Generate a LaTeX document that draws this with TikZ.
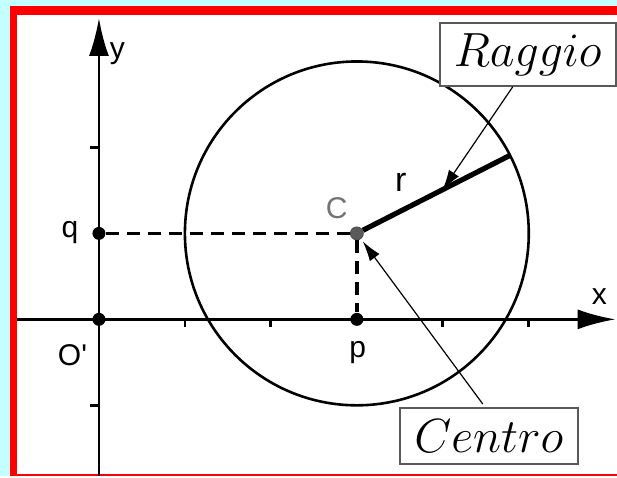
\RequirePackage{fix-cm}
\documentclass[tikz,border=0pt]{standalone}
\usepackage{fontspec}
\usepackage{xcolor}
\usepackage{tikz}
\usetikzlibrary{arrows.meta,positioning,calc}
\newfontfamily\labelsans{Liberation Sans}
\definecolor{sky}   {HTML}{C4FFFF}
\definecolor{frame} {HTML}{FF0000}
\definecolor{smoke} {HTML}{5A5A5A}

\begin{document}
\begin{tikzpicture}[x=43pt,y=43pt,
    axis/.style={line width=1.4pt},
    axisarrow/.style={axis,-{Latex[length=19pt,width=10pt]}},
    dot/.style={circle,fill=black,inner sep=0pt,minimum size=6.5pt},
    lbl/.style={font=\labelsans\fontsize{15}{17}\selectfont,inner sep=0pt},
    tag/.style={draw=smoke,line width=0.8pt,fill=white,inner sep=0pt,
                font=\fontsize{24}{28}\selectfont},
    leader/.style={line width=0.6pt,-{Latex[length=10pt,width=6pt]}},
    dashline/.style={line width=1.8pt,dash pattern=on 6.5pt off 4pt}]
  % page: cyan margin and red frame, cut on the right
  \fill[sky] (-1.151,-1.820) rectangle (6.023,3.715);
  \fill[frame] (-1.035,-1.820) rectangle (6.023,3.645);
  \fill[white] (-0.953,-1.802) rectangle (6.023,3.541);

  \draw[axisarrow] (-0.953,0) -- (6.01,0);
  \draw[axisarrow] (0,-1.82) -- (0,3.506);
  \foreach \t in {1,2,4,5}
    \draw[axis] (\t,0) -- (\t,-0.09);
  \foreach \t in {-1,2}
    \draw[axis] (0,\t) -- (-0.1,\t);

  \node[dot] (O) at (0,0) {};
  \node[dot] (p) at (3,0) {};
  \node[dot] (q) at (0,1) {};
  \node[dot,fill=smoke,draw=black!70,line width=0.4pt] (C) at (3,1) {};
  \coordinate (rend) at ($(C.center)+(27:2)$);

  \draw[line width=1.3pt] (C.center) circle (2);
  \draw[dashline] (q) -- (C);
  \draw[dashline] (C) -- (p);
  \draw[line width=2.6pt] (C) -- (rend);

  \node[lbl] at (0.215,3.087) {y};
  \node[lbl] at (5.82,0.26) {x};
  \node[lbl] at (-0.337,1.01) {q};
  \node[lbl] at (-0.308,-0.419) {O\textquotesingle};
  \node[lbl] at (3.01,-0.39) {p};
  \node[lbl,text=smoke!85] at (2.767,1.297) {C};
  \node[lbl,font=\labelsans\fontsize{17}{19}\selectfont] at (3.512,1.599) {r};

  \node[tag,minimum width=88pt,minimum height=31.5pt] (raggio) at (4.988,3.081) {$Raggio$};
  \node[tag,minimum width=89pt,minimum height=28pt] (centro) at (4.535,-1.355) {$Centro$};
  \draw[leader] ([xshift=-7.5pt]raggio.south) -- ($(C)!0.56!(rend)$);
  \draw[leader,shorten >=5pt] ([xshift=-3pt,yshift=1.5pt]centro.north) -- (C.center);
\end{tikzpicture}
\end{document}
